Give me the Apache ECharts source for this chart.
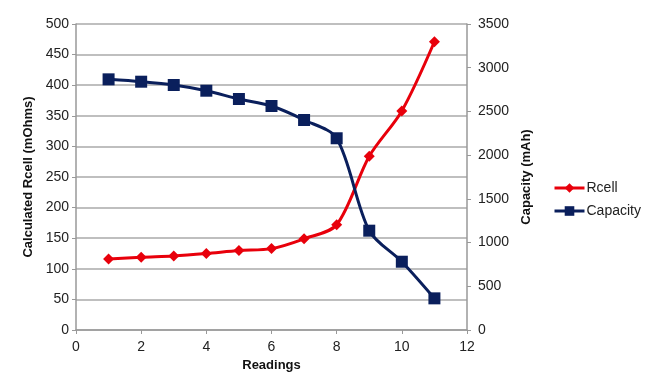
<!DOCTYPE html>
<html>
<head>
<meta charset="utf-8">
<script src="https://cdn.jsdelivr.net/npm/echarts@6/dist/echarts.min.js"></script>
<style>html,body{margin:0;padding:0;background:#fff;}#c{width:656px;height:390px;}</style>
</head>
<body>
<div id="c"></div>
<script>
const readings = [1, 2, 3, 4, 5, 6, 7, 8, 9, 10, 11];
const rcell = [116, 119, 121, 125, 130, 133, 149, 172, 284, 358, 471];
const capacity = [2867, 2840, 2802, 2737, 2642, 2562, 2402, 2193, 1136, 781, 362];

const chart = echarts.init(document.getElementById('c'));
const font = 'Liberation Sans, Arial, sans-serif';
const labelStyle = { color: '#222', fontSize: 14, fontFamily: font };
const nameStyle = { color: '#111', fontSize: 13, fontWeight: 'bold', fontFamily: font };
chart.setOption({
  animation: false,
  backgroundColor: '#fff',
  grid: { left: 76, right: 189, top: 24, bottom: 60 },
  legend: {
    orient: 'vertical', left: 553, top: 181, itemGap: 9, padding: 0,
    itemWidth: 30, itemHeight: 12,
    lineStyle: { width: 3 },
    textStyle: { color: '#222', fontSize: 14, fontFamily: font, padding: [0, 0, 0, -3] },
    data: ['Rcell', 'Capacity']
  },
  xAxis: {
    type: 'value', min: 0, max: 12, interval: 2,
    name: 'Readings', nameLocation: 'middle', nameGap: 28, nameTextStyle: nameStyle,
    axisLine: { show: true, lineStyle: { color: '#999', width: 1.5 } },
    axisTick: { show: true, length: 4, lineStyle: { color: '#999' } },
    axisLabel: Object.assign({ margin: 10 }, labelStyle),
    splitLine: { show: false }
  },
  yAxis: [{
    type: 'value', min: 0, max: 500, interval: 50,
    name: 'Calculated Rcell (mOhms)', nameLocation: 'middle', nameGap: 41, nameTextStyle: nameStyle,
    axisLine: { show: true, lineStyle: { color: '#999', width: 1.5 } },
    axisTick: { show: true, length: 4, lineStyle: { color: '#999' } },
    axisLabel: Object.assign({ margin: 7 }, labelStyle),
    splitLine: { show: true, lineStyle: { color: '#aaa', width: 1.5 } }
  }, {
    type: 'value', min: 0, max: 3500, interval: 500,
    name: 'Capacity (mAh)', nameLocation: 'middle', nameGap: 47, nameRotate: 90, nameTextStyle: nameStyle,
    axisLine: { show: true, lineStyle: { color: '#999', width: 1.5 } },
    axisTick: { show: true, length: 4, lineStyle: { color: '#999' } },
    axisLabel: Object.assign({ margin: 11, formatter: v => String(v) }, labelStyle),
    splitLine: { show: false }
  }],
  series: [{
    name: 'Rcell', type: 'line', yAxisIndex: 0, smooth: 0.3,
    data: readings.map((x, i) => [x, rcell[i]]),
    symbol: 'diamond', symbolSize: 11,
    lineStyle: { color: '#e8000b', width: 3 },
    itemStyle: { color: '#e8000b' }
  }, {
    name: 'Capacity', type: 'line', yAxisIndex: 1, smooth: 0.3,
    data: readings.map((x, i) => [x, capacity[i]]),
    symbol: 'rect', symbolSize: 12,
    lineStyle: { color: '#0a1f5c', width: 3 },
    itemStyle: { color: '#0a1f5c' }
  }]
});
</script>
</body>
</html>
